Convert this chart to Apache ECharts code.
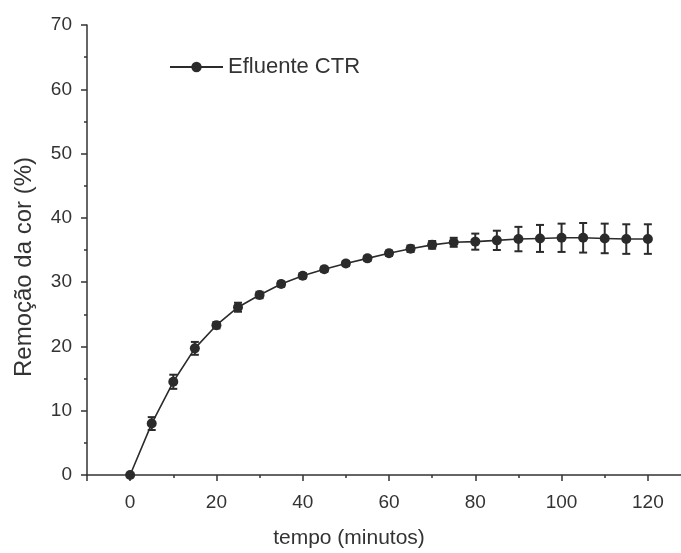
<!DOCTYPE html>
<html><head><meta charset="utf-8">
<script src="https://cdn.jsdelivr.net/npm/echarts@6/dist/echarts.min.js"></script>
<style>html,body{margin:0;padding:0;background:#fff}#c{width:681px;height:553px}</style>
</head><body><div id="c"></div>
<script>
const tempo = [0,5,10,15,20,25,30,35,40,45,50,55,60,65,70,75,80,85,90,95,100,105,110,115,120];
const remocao = [0,8.0,14.5,19.7,23.3,26.1,28.0,29.7,31.0,32.0,32.9,33.7,34.5,35.2,35.8,36.2,36.3,36.5,36.7,36.8,36.9,36.9,36.8,36.7,36.7];
const erro = [0,1.0,1.1,1.0,0.5,0.7,0.5,0.4,0.4,0.4,0.4,0.4,0.4,0.5,0.6,0.7,1.25,1.5,1.9,2.1,2.2,2.3,2.3,2.3,2.3];
const xTickLabels = [0,20,40,60,80,100,120];
const yTickLabels = [0,10,20,30,40,50,60,70];
const serieNome = 'Efluente CTR';

const font = 'Liberation Sans, Arial, sans-serif';
const ink = '#2b2b2b';
const chart = echarts.init(document.getElementById('c'), null, {renderer:'canvas'});
const lineData = tempo.map((t,i)=>[t, remocao[i]]);
const errData = tempo.map((t,i)=>[t, remocao[i]-erro[i], remocao[i]+erro[i]]);

chart.setOption({
  animation:false,
  backgroundColor:'#fff',
  grid:{left:87, right:-10, top:25, bottom:78, containLabel:false, outerBoundsMode:'none'},
  legend:{data:[serieNome], left:164, top:51, itemWidth:53, itemHeight:13, itemGap:6,
    textStyle:{fontFamily:font, fontSize:22, color:'#333'}},
  xAxis:{type:'value', min:-10, max:130, splitNumber:7,
    name:'tempo (minutos)', nameLocation:'middle', nameGap:53,
    nameTextStyle:{fontFamily:font, fontSize:21, color:'#333', padding:[0,80,0,0]},
    axisLine:{show:true, onZero:false, lineStyle:{color:'#333', width:1.5}},
    axisTick:{show:true, length:6, lineStyle:{color:'#333', width:1.5}},
    minorTick:{show:true, splitNumber:2, length:3, lineStyle:{color:'#333', width:1.5}},
    splitLine:{show:false},
    axisLabel:{margin:18, fontFamily:font, fontSize:19, color:'#333',
      formatter:v=>xTickLabels.includes(v)?String(v):''}
  },
  yAxis:{type:'value', min:yTickLabels[0], max:yTickLabels[yTickLabels.length-1], interval:10,
    name:'Remoção da cor (%)', nameLocation:'middle', nameGap:51, nameRotate:90,
    nameTextStyle:{fontFamily:font, fontSize:24, color:'#333', padding:[0,34,0,0]},
    axisLine:{show:true, onZero:false, lineStyle:{color:'#333', width:1.5}},
    axisTick:{show:true, length:6, lineStyle:{color:'#333', width:1.5}},
    minorTick:{show:true, splitNumber:2, length:3, lineStyle:{color:'#333', width:1.5}},
    splitLine:{show:false},
    axisLabel:{margin:15, fontFamily:font, fontSize:19, color:'#333'}
  },
  series:[
    {name:serieNome, type:'line', data:lineData, symbol:'circle', symbolSize:10,
      itemStyle:{color:ink}, lineStyle:{color:ink, width:1.6}, z:3},
    {name:'erro', type:'custom', data:errData, z:2,
      renderItem:(params, api)=>{
        const x = api.value(0);
        const lo = api.coord([x, api.value(1)]);
        const hi = api.coord([x, api.value(2)]);
        const w = 4;
        const st = {stroke:ink, lineWidth:2};
        return {type:'group', children:[
          {type:'line', shape:{x1:hi[0], y1:hi[1], x2:lo[0], y2:lo[1]}, style:st},
          {type:'line', shape:{x1:hi[0]-w, y1:hi[1], x2:hi[0]+w, y2:hi[1]}, style:st},
          {type:'line', shape:{x1:lo[0]-w, y1:lo[1], x2:lo[0]+w, y2:lo[1]}, style:st}
        ]};
      }
    }
  ]
});
</script></body></html>
